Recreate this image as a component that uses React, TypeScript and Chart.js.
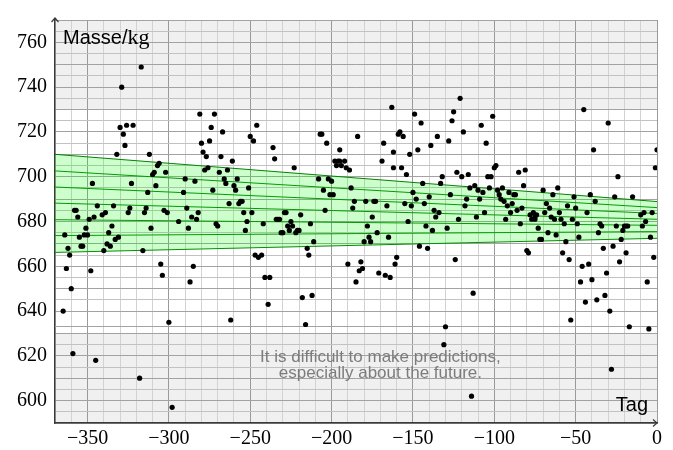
import React, { useEffect, useRef } from "react";
import { Chart, registerables } from "chart.js";
Chart.register(...registerables);

// ---- data ----
const days = [
  -365, -364, -363, -362, -361, -360, -359, -358, -357, -356, -355, -354, -353, -352, -351, -350,
  -349, -348, -347, -346, -345, -344, -341, -340, -339, -338, -337, -336, -335, -334, -333, -332,
  -331, -330, -329, -328, -327, -326, -325, -324, -323, -322, -318, -317, -316, -315, -314, -313,
  -312, -311, -310, -309, -308, -307, -306, -305, -304, -303, -302, -301, -300, -298, -294, -291,
  -290, -289, -288, -287, -286, -285, -284, -283, -282, -281, -280, -279, -278, -277, -276, -275,
  -274, -273, -272, -271, -270, -269, -268, -267, -266, -265, -264, -263, -262, -261, -260, -259,
  -258, -257, -256, -255, -254, -253, -252, -251, -250, -249, -248, -247, -246, -245, -243, -242,
  -241, -239, -238, -236, -235, -234, -233, -232, -231, -230, -229, -228, -227, -226, -225, -224,
  -223, -222, -221, -220, -219, -218, -216, -215, -214, -213, -212, -211, -208, -207, -206, -205,
  -204, -203, -202, -201, -200, -199, -198, -197, -196, -195, -195, -194, -192, -191, -190, -189,
  -188, -187, -186, -185, -184, -183, -182, -181, -180, -179, -178, -177, -176, -175, -174, -173,
  -172, -171, -169, -168, -167, -166, -165, -164, -163, -162, -162, -161, -160, -159, -158, -157,
  -156, -155, -154, -153, -152, -151, -150, -149, -148, -147, -146, -145, -144, -143, -142, -141,
  -140, -139, -138, -137, -136, -135, -134, -133, -132, -131, -130, -129, -128, -127, -126, -125,
  -124, -123, -122, -121, -120, -119, -118, -117, -116, -115, -114, -113, -112, -111, -110, -109,
  -108, -107, -106, -105, -104, -103, -102, -101, -100, -99, -98, -97, -96, -95, -94, -93,
  -92, -91, -90, -89, -88, -87, -86, -85, -84, -83, -82, -81, -80, -79, -78, -77,
  -76, -75, -75, -74, -73, -72, -71, -70, -69, -68, -67, -66, -65, -64, -63, -62,
  -61, -60, -59, -58, -57, -56, -55, -54, -53, -52, -51, -50, -49, -48, -47, -46,
  -45, -44, -43, -42, -41, -40, -39, -38, -37, -36, -35, -34, -33, -32, -31, -30,
  -29, -28, -27, -26, -25, -24, -23, -22, -21, -20, -19, -19, -18, -17, -15, -10,
  -9, -8, -7, -6, -5, -4, -3, -2, -1, 0,
];
const masses = [
  640, 674, 659, 668, 665, 650, 621, 685, 685, 682, 673, 669, 669, 674, 677, 674,
  681, 658, 697, 682, 618, 687, 683, 667, 684, 670, 675, 669, 678, 687, 672, 710,
  673, 722, 740, 719, 714, 723, 684, 686, 697, 723, 610, 749, 667, 684, 686, 693,
  710, 677, 701, 702, 696, 705, 706, 661, 656, 685, 702, 684, 635, 597, 680, 693,
  699, 686, 677, 653, 682, 660, 698, 681, 684, 728, 715, 711, 703, 709, 704, 716,
  722, 694, 728, 679, 678, 702, 709, 720, 699, 697, 703, 688, 636, 707, 696, 694,
  699, 688, 689, 689, 684, 676, 680, 695, 718, 684, 716, 665, 723, 664, 665, 679,
  655, 643, 655, 713, 708, 681, 681, 681, 675, 675, 684, 684, 678, 676, 680, 678,
  704, 675, 676, 676, 683, 646, 634, 668, 665, 679, 647, 671, 699, 719, 719, 694,
  685, 715, 699, 692, 698, 692, 707, 705, 707, 712, 707, 705, 707, 704, 661, 703,
  695, 686, 689, 653, 718, 658, 662, 659, 671, 689, 678, 673, 671, 682, 689, 689,
  675, 657, 707, 715, 656, 687, 673, 655, 731, 711, 704, 661, 664, 719, 720, 704,
  718, 688, 701, 680, 710, 687, 693, 728, 690, 712, 669, 724, 697, 688, 678, 668,
  691, 714, 676, 685, 682, 718, 684, 697, 700, 625, 633, 677, 716, 692, 725, 729,
  663, 702, 681, 735, 700, 720, 687, 690, 701, 695, 602, 648, 696, 682, 694, 690,
  723, 693, 684, 715, 700, 695, 700, 727, 704, 705, 694, 692, 690, 695, 689, 681,
  687, 693, 684, 688, 692, 692, 685, 702, 679, 686, 696, 703, 667, 666, 683, 681,
  684, 682, 681, 683, 677, 672, 672, 694, 684, 688, 675, 686, 682, 692, 681, 674,
  695, 684, 681, 666, 679, 671, 687, 663, 636, 681, 691, 686, 679, 673, 653, 660,
  730, 644, 684, 661, 692, 654, 712, 689, 645, 675, 679, 678, 668, 647, 657, 724,
  640, 614, 669, 691, 678, 700, 662, 672, 676, 678, 678, 666, 678, 633, 691, 683,
  678, 684, 680, 653, 632, 673, 684, 664, 704, 712,
];

// prediction band: seven lines, value at the left end and at day 0
const bandDays = [-370, 0];
const bandStart = [710.0, 702.6, 695.4, 688.2, 680.8, 673.7, 666.2];
const bandEnd = [688.9, 686.2, 683.6, 681.0, 678.3, 675.5, 672.5];

// shaded "outside" ranges
const normalLow = 630;
const normalHigh = 730;
const markerLine = 633.3;

// axes
const xMin = -370;
const xMax = 0;
const yMin = 590;
const yMax = 770;
const xLabelTicks = [-350, -300, -250, -200, -150, -100, -50, 0];
const yLabelTicks = [600, 620, 640, 660, 680, 700, 720, 740, 760];

const yAxisTitle = "Masse/";
const yAxisUnit = "kg";
const xAxisTitle = "Tag";
const quoteLines = ["It is difficult to make predictions,", "especially about the future."];

const xGrid: number[] = [];
for (let v = xMin; v <= xMax; v += 10) xGrid.push(v);
const yGrid: number[] = [];
for (let v = yMin; v <= yMax; v += 5) yGrid.push(v);

const SANS = "'Liberation Sans', Arial, Helvetica, sans-serif";
const SERIF = "'Liberation Serif', 'Times New Roman', serif";

export default function App() {
  const ref = useRef<HTMLCanvasElement | null>(null);

  useEffect(() => {
    const canvas = ref.current;
    if (!canvas) return;

    const shadePlugin = {
      id: "shade",
      beforeDraw(chart: any) {
        const { ctx, chartArea, scales } = chart;
        const ys = scales.y;
        ctx.save();
        ctx.fillStyle = "#f0f0f0";
        const yHi = ys.getPixelForValue(normalHigh);
        const yLo = ys.getPixelForValue(normalLow);
        ctx.fillRect(chartArea.left, chartArea.top, chartArea.right - chartArea.left, yHi - chartArea.top);
        ctx.fillRect(chartArea.left, yLo, chartArea.right - chartArea.left, chartArea.bottom - yLo);
        ctx.restore();
      },
      beforeDatasetsDraw(chart: any) {
        const { ctx, chartArea, scales } = chart;
        const yp = Math.round(scales.y.getPixelForValue(markerLine)) + 0.5;
        ctx.save();
        ctx.strokeStyle = "#a2a2a2";
        ctx.lineWidth = 1;
        ctx.beginPath();
        ctx.moveTo(chartArea.left, yp);
        ctx.lineTo(chartArea.right, yp);
        ctx.stroke();
        ctx.restore();
      },
    };

    const decorPlugin = {
      id: "decor",
      afterDraw(chart: any) {
        const { ctx, chartArea, scales } = chart;
        const xs = scales.x;
        const ys = scales.y;
        ctx.save();
        // axis arrows
        ctx.strokeStyle = "#3a3a3a";
        ctx.lineWidth = 1.2;
        const L = chartArea.left;
        const B = chartArea.bottom;
        ctx.beginPath();
        ctx.moveTo(L, chartArea.top);
        ctx.lineTo(L, chartArea.top - 2);
        ctx.moveTo(L - 3.5, chartArea.top + 2);
        ctx.lineTo(L, chartArea.top - 2);
        ctx.lineTo(L + 3.5, chartArea.top + 2);
        ctx.stroke();
        const R = chartArea.right;
        ctx.beginPath();
        ctx.moveTo(R - 4, B - 3.5);
        ctx.lineTo(R, B);
        ctx.lineTo(R - 4, B + 3.5);
        ctx.stroke();

        // axis titles
        ctx.fillStyle = "#000";
        ctx.textBaseline = "alphabetic";
        ctx.textAlign = "left";
        ctx.font = `20px ${SANS}`;
        const tx = L + 8;
        const ty = chartArea.top + 24;
        ctx.fillText(yAxisTitle, tx, ty);
        const w = ctx.measureText(yAxisTitle).width;
        ctx.font = `22px ${SERIF}`;
        ctx.fillText(yAxisUnit, tx + w, ty);

        ctx.font = `20px ${SANS}`;
        ctx.textAlign = "right";
        ctx.fillText(xAxisTitle, R - 9, B - 12);

        // quote
        ctx.fillStyle = "#7c7c7c";
        ctx.font = `17px ${SANS}`;
        ctx.textAlign = "center";
        const qx = xs.getPixelForValue(-170);
        ctx.fillText(quoteLines[0], qx, ys.getPixelForValue(617.4));
        ctx.fillText(quoteLines[1], qx, ys.getPixelForValue(610.1));
        ctx.restore();
      },
    };

    const bandSets = bandStart.map((s, i) => ({
      type: "line" as const,
      data: [
        { x: bandDays[0], y: s },
        { x: bandDays[1], y: bandEnd[i] },
      ],
      borderColor: "#078007",
      borderWidth: 1,
      pointRadius: 0,
      fill: i === 0 ? "+6" : false,
      backgroundColor: "rgba(0,255,0,0.2)",
    }));

    const chart = new Chart(canvas, {
      type: "scatter",
      data: {
        datasets: [
          {
            type: "scatter" as const,
            data: days.map((d, i) => ({ x: d, y: masses[i] })),
            pointRadius: 2.6,
            pointBackgroundColor: "#000",
            pointBorderWidth: 0,
            borderWidth: 0,
          } as any,
          ...(bandSets as any[]),
        ],
      },
      options: {
        responsive: false,
        animation: false,
        devicePixelRatio: 1,
        layout: { padding: { top: 5, right: 16, left: 0, bottom: 0 } },
        plugins: {
          legend: { display: false },
          tooltip: { enabled: false },
        },
        events: [],
        scales: {
          x: {
            type: "linear",
            min: xMin,
            max: xMax,
            afterBuildTicks: (s: any) => {
              s.ticks = xGrid.map((v) => ({ value: v }));
            },
            afterFit: (s: any) => {
              s.height = 27;
            },
            ticks: {
              autoSkip: false,
              maxRotation: 0,
              padding: 4,
              color: "#000",
              font: { family: SERIF, size: 20 },
              callback: (v: any) =>
                xLabelTicks.includes(Number(v)) ? (Number(v) < 0 ? "\u2212" + Math.abs(Number(v)) : "0") : "",
            },
            grid: {
              drawTicks: false,
              lineWidth: 1,
              color: (c: any) => (c.tick && c.tick.value % 50 === 0 ? "#9a9a9a" : "#d2d2d2"),
            },
            border: { display: true, color: "#3a3a3a", width: 1.5 },
          },
          y: {
            type: "linear",
            min: yMin,
            max: yMax,
            afterBuildTicks: (s: any) => {
              s.ticks = yGrid.map((v) => ({ value: v }));
            },
            afterFit: (s: any) => {
              s.width = 55;
            },
            ticks: {
              autoSkip: false,
              padding: 8,
              color: "#000",
              font: { family: SERIF, size: 20 },
              callback: (v: any) => (yLabelTicks.includes(Number(v)) ? String(v) : ""),
            },
            grid: {
              drawTicks: false,
              lineWidth: 1,
              color: (c: any) => {
                const v = c.tick ? c.tick.value : 0;
                if (v === 635) return "rgba(0,0,0,0)";
                return v % 10 === 0 ? "#a2a2a2" : "#c2c2c2";
              },
            },
            border: { display: true, color: "#3a3a3a", width: 1.5 },
          },
        },
      } as any,
      plugins: [shadePlugin, decorPlugin],
    });

    return () => chart.destroy();
  }, []);

  return (
    <div style={{ position: "fixed", left: 0, top: 0, width: 673, height: 450, background: "#fff" }}>
      <canvas ref={ref} width={673} height={450} style={{ display: "block", width: 673, height: 450 }} />
    </div>
  );
}
